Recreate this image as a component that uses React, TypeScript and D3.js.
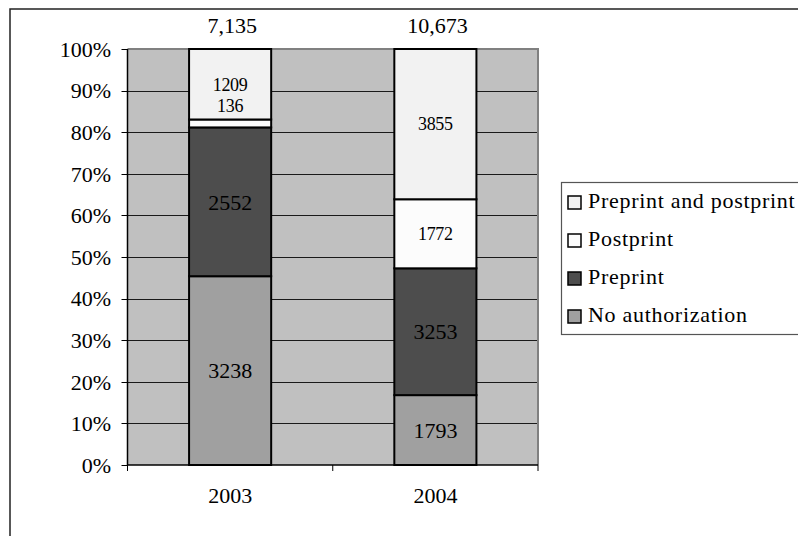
import { useRef, useEffect } from "react";
import * as d3 from "d3";

const years = ["2003", "2004"];
const noAuthorization = [3238, 1793];
const preprint = [2552, 3253];
const postprint = [136, 1772];
const preAndPost = [1209, 3855];

const seriesKeys = ["noAuth", "preprint", "postprint", "prePost"];
const seriesNames: Record<string, string> = {
  noAuth: "No authorization",
  preprint: "Preprint",
  postprint: "Postprint",
  prePost: "Preprint and postprint",
};
const legendOrder = ["prePost", "postprint", "preprint", "noAuth"];

const COLORS: Record<string, string> = {
  noAuth: "#A0A0A0",
  preprint: "#4D4D4D",
  postprint: "#FCFCFC",
  prePost: "#F2F2F2",
  plotBg: "#C0C0C0",
  grid: "#1a1a1a",
  plotBorder: "#808080",
};

const FONT = "Liberation Serif, DejaVu Serif, serif";
const W = 798;
const H = 536;

export default function App() {
  const svgRef = useRef<SVGSVGElement>(null);

  useEffect(() => {
    if (!svgRef.current) return;
    const svg = d3.select(svgRef.current);
    svg.selectAll("*").remove();

    const plot = { left: 127.5, right: 538, top: 49, bottom: 465 };

    const rows = years.map((year, i) => ({
      year,
      noAuth: noAuthorization[i],
      preprint: preprint[i],
      postprint: postprint[i],
      prePost: preAndPost[i],
    }));
    const totals = rows.map((r) => r.noAuth + r.preprint + r.postprint + r.prePost);

    const stack = d3
      .stack<(typeof rows)[0]>()
      .keys(seriesKeys)
      .offset(d3.stackOffsetExpand);
    const stacked = stack(rows);

    const xCat = d3.scaleBand<string>().domain(years).range([plot.left, plot.right]);
    const x = d3
      .scaleBand<string>()
      .domain(years)
      .range([plot.left, plot.right])
      .paddingInner(0.6)
      .paddingOuter(0.3);
    const y = d3.scaleLinear().domain([0, 1]).range([plot.bottom, plot.top]);

    const txt = (sel: d3.Selection<any, any, any, any>, size: number) =>
      sel.style("font-family", FONT).style("font-size", `${size}px`).attr("fill", "#000");

    // Outer chart border
    svg
      .append("rect")
      .attr("x", 10)
      .attr("y", 9)
      .attr("width", 800)
      .attr("height", 540)
      .attr("fill", "#fff")
      .attr("stroke", "#222")
      .attr("stroke-width", 1.5);

    // Plot background
    svg
      .append("rect")
      .attr("x", plot.left)
      .attr("y", plot.top)
      .attr("width", plot.right - plot.left)
      .attr("height", plot.bottom - plot.top)
      .attr("fill", COLORS.plotBg);

    // Grid
    const ticks = y.ticks(10);
    svg
      .append("g")
      .selectAll("line")
      .data(ticks.filter((t) => t > 0 && t < 1))
      .enter()
      .append("line")
      .attr("x1", plot.left)
      .attr("x2", plot.right)
      .attr("y1", (d) => Math.round(y(d)) + 0.5)
      .attr("y2", (d) => Math.round(y(d)) + 0.5)
      .attr("stroke", COLORS.grid)
      .attr("stroke-width", 1);

    // Plot border top/right
    svg
      .append("path")
      .attr("d", `M${plot.left},${plot.top}H${plot.right}V${plot.bottom}`)
      .attr("fill", "none")
      .attr("stroke", COLORS.plotBorder)
      .attr("stroke-width", 2);

    // Bars
    stacked.forEach((layer) => {
      svg
        .append("g")
        .selectAll("rect")
        .data(layer)
        .enter()
        .append("rect")
        .attr("x", (d) => x(d.data.year)!)
        .attr("y", (d) => y(d[1]))
        .attr("width", x.bandwidth())
        .attr("height", (d) => y(d[0]) - y(d[1]))
        .attr("fill", COLORS[layer.key])
        .attr("stroke", "#000")
        .attr("stroke-width", 2);
    });

    // Segment labels (thin segments get their label lifted above)
    stacked.forEach((layer) => {
      const light = layer.key === "postprint" || layer.key === "prePost";
      layer.forEach((d) => {
        const top = y(d[1]);
        const bottom = y(d[0]);
        const small = bottom - top < 20;
        const cy = small ? top - 14 : (top + bottom) / 2;
        const value = (d.data as any)[layer.key] as number;
        svg
          .append("text")
          .attr("x", x(d.data.year)! + x.bandwidth() / 2)
          .attr("y", cy)
          .attr("dy", "0.35em")
          .attr("text-anchor", "middle")
          .call(txt, light ? 18 : 22)
          .style("letter-spacing", light ? "-0.3px" : "0px")
          .text(String(value));
      });
    });

    // Totals above bars
    svg
      .append("g")
      .selectAll("text")
      .data(years)
      .enter()
      .append("text")
      .attr("x", (d) => x(d)! + x.bandwidth() / 2 + 2)
      .attr("y", 33)
      .attr("text-anchor", "middle")
      .call(txt, 22)
      .text((d, i) => d3.format(",")(totals[i]));

    // Y axis
    svg
      .append("line")
      .attr("x1", plot.left)
      .attr("x2", plot.left)
      .attr("y1", plot.top)
      .attr("y2", plot.bottom)
      .attr("stroke", "#000")
      .attr("stroke-width", 1.5);
    const yAxis = svg.append("g");
    yAxis
      .selectAll("line")
      .data(ticks)
      .enter()
      .append("line")
      .attr("x1", plot.left - 6)
      .attr("x2", plot.left)
      .attr("y1", (d) => Math.round(y(d)) + 0.5)
      .attr("y2", (d) => Math.round(y(d)) + 0.5)
      .attr("stroke", "#000");
    yAxis
      .selectAll("text")
      .data(ticks)
      .enter()
      .append("text")
      .attr("x", 111)
      .attr("y", (d) => y(d))
      .attr("dy", "0.35em")
      .attr("text-anchor", "end")
      .call(txt, 22)
      .text((d) => d3.format(".0%")(d));

    // X axis
    svg
      .append("line")
      .attr("x1", plot.left)
      .attr("x2", plot.right)
      .attr("y1", plot.bottom)
      .attr("y2", plot.bottom)
      .attr("stroke", "#000")
      .attr("stroke-width", 1.5);
    const xTicks = [...years.map((d) => xCat(d)!), plot.right];
    svg
      .append("g")
      .selectAll("line")
      .data(xTicks)
      .enter()
      .append("line")
      .attr("x1", (d) => d)
      .attr("x2", (d) => d)
      .attr("y1", plot.bottom)
      .attr("y2", plot.bottom + 6)
      .attr("stroke", "#000");
    svg
      .append("g")
      .selectAll("text")
      .data(years)
      .enter()
      .append("text")
      .attr("x", (d) => xCat(d)! + xCat.bandwidth() / 2)
      .attr("y", 503)
      .attr("text-anchor", "middle")
      .call(txt, 22)
      .text((d) => d);

    // Legend
    const legend = svg.append("g");
    legend
      .append("rect")
      .attr("x", 561.5)
      .attr("y", 182.5)
      .attr("width", 260)
      .attr("height", 152)
      .attr("fill", "#fff")
      .attr("stroke", "#555")
      .attr("stroke-width", 1.2);
    const ly = d3.scalePoint<string>().domain(legendOrder).range([201, 315]);
    legendOrder.forEach((key) => {
      const cy = ly(key)!;
      legend
        .append("rect")
        .attr("x", 568)
        .attr("y", cy - 5)
        .attr("width", 13)
        .attr("height", 13)
        .attr("fill", COLORS[key])
        .attr("stroke", "#000")
        .attr("stroke-width", 1.5);
      legend
        .append("text")
        .attr("x", 588)
        .attr("y", cy + 7)
        .call(txt, 22)
        .style("letter-spacing", "0.7px")
        .text(seriesNames[key]);
    });
  }, []);

  return (
    <svg
      ref={svgRef}
      width={W}
      height={H}
      viewBox={`0 0 ${W} ${H}`}
      style={{ position: "absolute", left: 0, top: 0, background: "#fff" }}
    />
  );
}
